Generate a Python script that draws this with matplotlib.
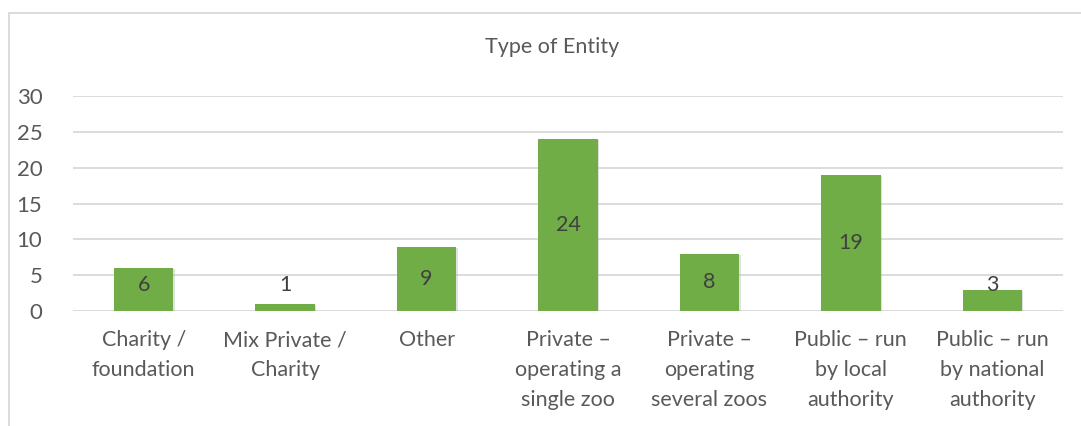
import matplotlib.pyplot as plt
import matplotlib.patheffects as pe
from matplotlib.patches import Rectangle
import numpy as np

categories = ["Charity /\nfoundation", "Mix Private /\nCharity", "Other",
              "Private –\noperating a\nsingle zoo", "Private –\noperating\nseveral zoos",
              "Public – run\nby local\nauthority", "Public – run\nby national\nauthority"]
counts = [6, 1, 9, 24, 8, 19, 3]
y_ticks = [0, 5, 10, 15, 20, 25, 30]

plt.rcParams['font.family'] = ['Lato', 'DejaVu Sans']

fig = plt.figure(figsize=(10.81, 4.26), dpi=100)
ax = fig.add_axes([73 / 1081, 115 / 426, 990 / 1081, 215 / 426])

# outer chart frame
fig.patches.append(Rectangle((9 / 1081, -0.1), 1.2, (1 - 13 / 426) + 0.1,
                             transform=fig.transFigure, fill=False,
                             edgecolor='#d9d9d9', linewidth=1.3))

x = np.arange(len(categories))
bars = ax.bar(x, counts, width=0.42, color='#70AD47', zorder=3)
for b in bars:
    b.set_path_effects([pe.SimplePatchShadow(offset=(1, -1), shadow_rgbFace='#aaaaaa', alpha=0.35),
                        pe.Normal()])

# value labels sit in the middle of each bar, small bars keep a minimum height
for xi, v in zip(x, counts):
    ax.text(xi, max(v / 2, 3.6), str(v), ha='center', va='center',
            fontsize=15.5, color='#404040', zorder=4)

ax.set_xlim(-0.5, len(categories) - 0.5)
ax.set_ylim(0, 30)
ax.set_yticks(y_ticks)
ax.set_xticks(x)
ax.set_xticklabels(categories, fontsize=15.5, color='#595959', linespacing=1.6)
ax.tick_params(axis='y', labelsize=16, labelcolor='#595959', length=0, pad=22)
ax.tick_params(axis='x', length=0, pad=14)
ax.yaxis.grid(True, color='#d9d9d9', linewidth=1.3, zorder=0)
for s in ax.spines.values():
    s.set_visible(False)
ax.set_axisbelow(True)

fig.text(552 / 1081, 1 - 47 / 426, "Type of Entity", ha='center', va='center',
         fontsize=15.5, color='#595959')

fig.savefig('out.png', dpi=100)
